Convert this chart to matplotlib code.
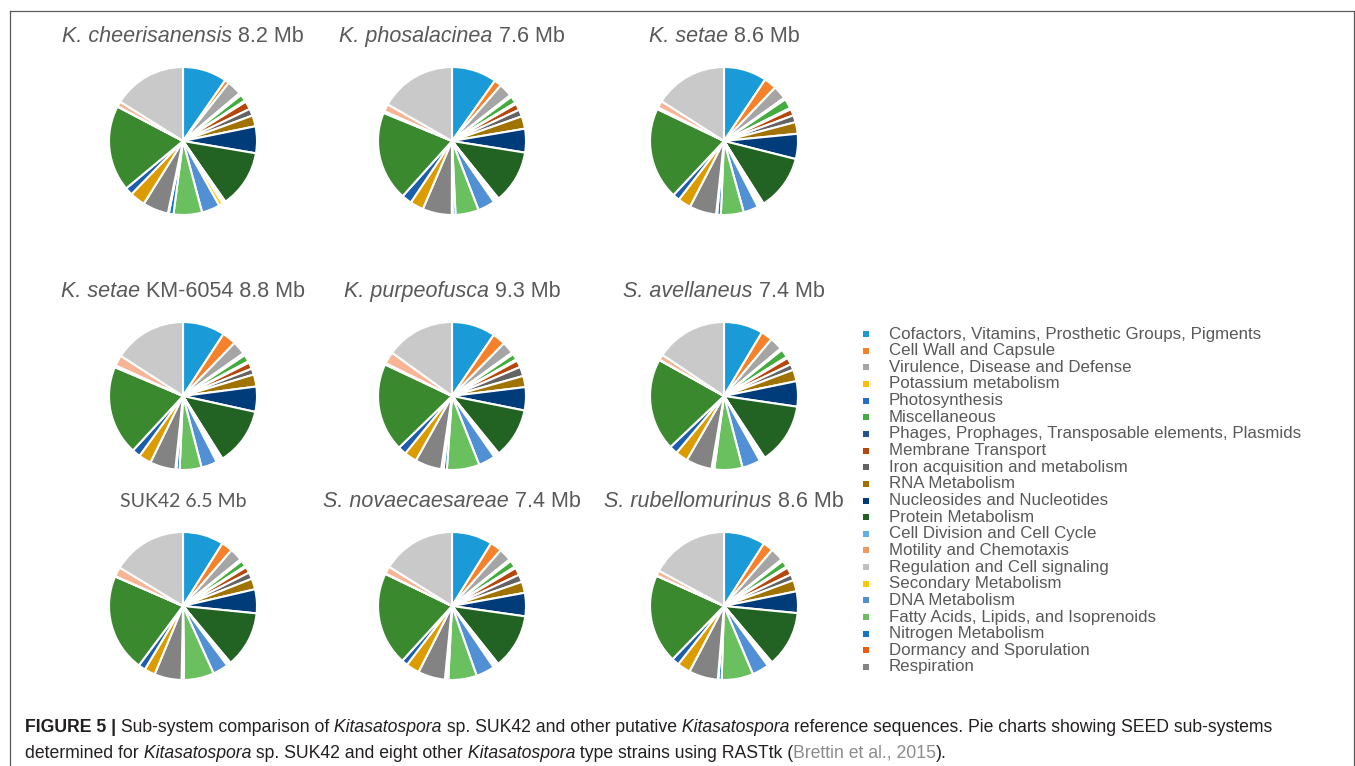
import numpy as np
import matplotlib
matplotlib.use("Agg")
import matplotlib.pyplot as plt
from matplotlib.patches import Rectangle
from matplotlib.lines import Line2D

W, H = 1355, 766

plt.rcParams['font.family'] = ['Liberation Sans', 'DejaVu Sans']

# SEED sub-system categories (legend only lists the first 21)
categories = [
    "Cofactors, Vitamins, Prosthetic Groups, Pigments",
    "Cell Wall and Capsule",
    "Virulence, Disease and Defense",
    "Potassium metabolism",
    "Photosynthesis",
    "Miscellaneous",
    "Phages, Prophages, Transposable elements, Plasmids",
    "Membrane Transport",
    "Iron acquisition and metabolism",
    "RNA Metabolism",
    "Nucleosides and Nucleotides",
    "Protein Metabolism",
    "Cell Division and Cell Cycle",
    "Motility and Chemotaxis",
    "Regulation and Cell signaling",
    "Secondary Metabolism",
    "DNA Metabolism",
    "Fatty Acids, Lipids, and Isoprenoids",
    "Nitrogen Metabolism",
    "Dormancy and Sporulation",
    "Respiration",
    "Stress Response",
    "Metabolism of Aromatic Compounds",
    "Amino Acids and Derivatives",
    "Sulfur Metabolism",
    "Phosphorus Metabolism",
    "Carbohydrates",
]
n_legend = 21

colors = [
    "#1a9bd7", "#f5822a", "#a5a5a5", "#ffc000", "#2070cc", "#42ad3c",
    "#1f5591", "#b5470b", "#636363", "#a07300", "#003b7a", "#226222",
    "#5db1e6", "#f7965a", "#bfbfbf", "#ffcc00", "#5290d6", "#6abf5e",
    "#1474c8", "#f05a0f", "#838383", "#dc9c00", "#1b5ead", "#3a892e",
    "#9dc3e6", "#f7b596", "#c9c9c9",
]

# genome name (italic part), rest of title
names = ["K. cheerisanensis", "K. phosalacinea", "K. setae",
         "K. setae", "K. purpeofusca", "S. avellaneus",
         "", "S. novaecaesareae", "S. rubellomurinus"]
suffix = ["8.2 Mb", "7.6 Mb", "8.6 Mb",
          "KM-6054 8.8 Mb", "9.3 Mb", "7.4 Mb",
          "SUK42 6.5 Mb", "7.4 Mb", "8.6 Mb"]

# percentage of features per sub-system
cheerisanensis = [9.5, 0.9, 3.2, 0.35, 0.15, 1.4, 0.3, 1.75, 1.5, 2.35, 5.75, 12.4, 0.35, 0.15,
                  0.2, 0.85, 3.9, 6.1, 1.0, 0.2, 5.5, 3.3, 1.65, 18.4, 0.1, 1.1, 15.8]
phosalacinea = [9.7, 1.6, 2.9, 0.3, 0.1, 1.5, 0.3, 1.4, 1.5, 2.7, 5.1, 11.5, 0.4, 0.1,
                0.5, 0.2, 3.7, 5.0, 0.6, 0.2, 6.3, 2.9, 2.2, 19.3, 0.4, 1.6, 16.5]
setae = [9.25, 2.7, 2.9, 0.3, 0.1, 2.1, 0.3, 1.4, 1.5, 2.5, 5.4, 11.9, 0.4, 0.1,
         0.4, 0.5, 3.2, 4.9, 0.8, 0.2, 5.8, 2.8, 1.5, 19.8, 0.4, 1.5, 15.7]
setae_km6054 = [9.05, 3.0, 2.9, 0.3, 0.2, 1.5, 0.3, 1.4, 1.3, 2.6, 5.4, 12.4, 0.4, 0.1,
                0.5, 0.4, 3.4, 4.7, 0.7, 0.2, 5.5, 2.7, 1.8, 19.2, 0.4, 2.3, 15.6]
purpeofusca = [9.4, 2.8, 2.6, 0.3, 0.1, 1.3, 0.3, 1.5, 2.0, 2.4, 5.0, 10.8, 0.4, 0.1,
               0.4, 0.3, 3.6, 7.0, 0.7, 0.5, 5.7, 2.7, 1.8, 19.0, 0.3, 2.6, 14.8]
avellaneus = [8.5, 2.5, 2.8, 0.3, 0.1, 1.8, 0.3, 1.5, 1.3, 2.5, 5.5, 13.3, 0.4, 0.1,
              0.4, 0.3, 4.0, 6.1, 0.3, 0.3, 5.6, 2.7, 1.8, 20.0, 0.1, 1.2, 15.5]
suk42 = [8.7, 2.4, 2.7, 0.3, 0.1, 1.3, 0.3, 1.3, 1.4, 2.3, 5.1, 12.0, 0.3, 0.1,
         0.4, 0.1, 3.3, 6.4, 0.1, 0.4, 5.8, 2.3, 1.5, 20.8, 0.1, 2.0, 15.9]
novaecaesareae = [8.7, 2.5, 2.7, 0.3, 0.1, 1.5, 0.3, 1.6, 1.6, 2.4, 5.0, 11.8, 0.4, 0.1,
                  0.5, 0.2, 4.0, 6.1, 0.4, 0.3, 5.8, 2.9, 1.3, 20.0, 0.1, 1.6, 15.8]
rubellomurinus = [8.8, 2.2, 2.8, 0.3, 0.1, 1.4, 0.3, 1.6, 1.3, 2.4, 4.6, 11.9, 0.3, 0.1,
                  0.4, 0.3, 3.6, 6.7, 0.7, 0.1, 6.2, 2.8, 1.6, 18.9, 0.1, 1.1, 16.6]

genomes = [cheerisanensis, phosalacinea, setae,
           setae_km6054, purpeofusca, avellaneus,
           suk42, novaecaesareae, rubellomurinus]

fig = plt.figure(figsize=(W / 100, H / 100), dpi=100)
renderer = fig.canvas.get_renderer()


def fx(px):
    return px / W


def fy(py):
    return 1 - py / H


def put_runs(x, y, runs, size, ha="left"):
    # runs: (text, style, weight, color); spaces go at the start of a run
    texts = []
    for s, style, weight, color in runs:
        t = fig.text(0, fy(y), s, fontsize=size, style=style, weight=weight,
                     color=color, ha="left", va="baseline")
        texts.append(t)
    widths = [t.get_window_extent(renderer).width for t in texts]
    pos = x - sum(widths) / 2 if ha == "center" else x
    for t, w in zip(texts, widths):
        t.set_x(fx(pos))
        pos += w


# grid of pies (pixel centres)
col_x = [183, 452, 724]
row_y = [141, 396, 606]
R = 74
title_gap = 99
grey = "#595959"

for k, vals in enumerate(genomes):
    cx = col_x[k % 3]
    cy = row_y[k // 3]
    s = R * 1.06
    ax = fig.add_axes([fx(cx - s), fy(cy + s), 2 * s / W, 2 * s / H])
    ax.pie(vals, colors=colors, startangle=90, counterclock=False,
           wedgeprops=dict(edgecolor="white", linewidth=1.5))
    ax.set_xlim(-1.06, 1.06)
    ax.set_ylim(-1.06, 1.06)
    ax.set_aspect("equal")
    ax.axis("off")

    if names[k]:
        put_runs(cx, cy - title_gap,
                 [(names[k], "italic", "normal", grey),
                  (" " + suffix[k], "normal", "normal", grey)],
                 15.5, ha="center")
    else:
        fig.text(fx(cx), fy(cy - title_gap), suffix[k], ha="center", va="baseline",
                 fontsize=14, color=grey, family=["Lato", "DejaVu Sans"])

# legend
leg_top = 334
leg_step = 16.65
for i in range(n_legend):
    y = leg_top + i * leg_step
    fig.add_artist(Rectangle((fx(863), fy(y + 3)), 6 / W, 6 / H,
                             transform=fig.transFigure, facecolor=colors[i],
                             edgecolor="none"))
    fig.text(fx(889), fy(y), categories[i], ha="left", va="center",
             fontsize=12.2, color=grey)

# frame around the figure panel
frame = dict(color="#5a5a5a", linewidth=0.9, transform=fig.transFigure)
fig.add_artist(Line2D([fx(9.5), fx(1353.5)], [fy(10.5), fy(10.5)], **frame))
fig.add_artist(Line2D([fx(9.5), fx(9.5)], [fy(10.5), 0], **frame))
fig.add_artist(Line2D([fx(1353.5), fx(1353.5)], [fy(10.5), 0], **frame))

# caption
ink = "#231f20"
cap_size = 12.7
put_runs(25, 731.5, [
    ("FIGURE 5 |", "normal", "bold", ink),
    (" Sub-system comparison of", "normal", "normal", ink),
    (" Kitasatospora", "italic", "normal", ink),
    (" sp. SUK42 and other putative", "normal", "normal", ink),
    (" Kitasatospora", "italic", "normal", ink),
    (" reference sequences. Pie charts showing SEED sub-systems", "normal", "normal", ink),
], cap_size)
put_runs(25, 758, [
    ("determined for", "normal", "normal", ink),
    (" Kitasatospora", "italic", "normal", ink),
    (" sp. SUK42 and eight other", "normal", "normal", ink),
    (" Kitasatospora", "italic", "normal", ink),
    (" type strains using RASTtk (", "normal", "normal", ink),
    ("Brettin et al., 2015", "normal", "normal", "#8c8c8c"),
    (").", "normal", "normal", ink),
], cap_size)

fig.savefig("out.png", dpi=100)
